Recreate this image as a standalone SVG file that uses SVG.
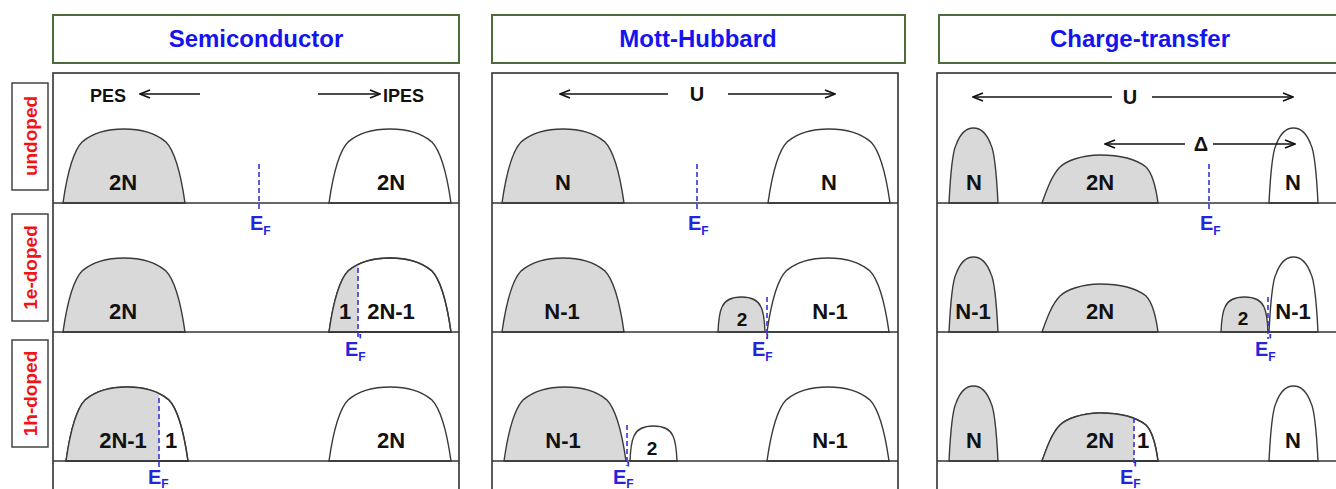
<svg xmlns="http://www.w3.org/2000/svg" xmlns:xlink="http://www.w3.org/1999/xlink" width="1336" height="489" viewBox="0 0 1336 489">
<style>
text{font-family:"Liberation Sans",Arial,sans-serif;font-weight:bold}
.title{font-size:24px;fill:#1414ee;text-anchor:middle}
.tbox{fill:#fff;stroke:#4e6b3a;stroke-width:2}
.rbox{fill:#fff;stroke:#444;stroke-width:1.5}
.rlab{font-size:19px;fill:#f01414;text-anchor:middle}
.panel{fill:#fff;stroke:#333;stroke-width:1.6}
.base{stroke:#333;stroke-width:1.6}
.g{fill:#d9d9d9;stroke:#3a3a3a;stroke-width:1.4}
.w{fill:#fff;stroke:#3a3a3a;stroke-width:1.4}
.gf{fill:#d9d9d9;stroke:none}
.o{fill:none;stroke:#3a3a3a;stroke-width:1.4}
.lab{font-size:22px;fill:#111;text-anchor:middle}
.lab2{font-size:19px;fill:#111;text-anchor:middle}
.hdr{font-size:18px;fill:#111}
.u{font-size:20px;fill:#111;text-anchor:middle}
.ef{stroke:#3434d8;stroke-width:1.6;stroke-dasharray:5 3}
.e{font-size:20px;fill:#2424dd}
.sub{font-size:12px;fill:#2424dd}
.pr{font-size:20px;font-weight:normal;fill:#2424dd}
.arr{stroke:#111;stroke-width:1.6;fill:none;marker-end:url(#ah)}
</style>
<defs>
<marker id="ah" viewBox="0 0 12 10" refX="11" refY="5" markerWidth="12" markerHeight="10" markerUnits="userSpaceOnUse" orient="auto">
<path d="M1,1 L11,5 L1,9" fill="none" stroke="#111" stroke-width="1.6"/>
</marker>
<path id="wide" d="M0,0 C3.7,-25.9 9.8,-51.8 19.5,-61.4 C32.9,-72.5 48.8,-74 61,-74 C73.2,-74 89.1,-72.5 102.5,-61.4 C112.2,-51.8 118.3,-25.9 122,0 Z"/>
<path id="narrow" d="M0,0 C1.5,-30 3,-50 7,-58 C11,-69 17,-75 24.5,-75 C32,-75 38,-69 42,-58 C46,-50 47.5,-30 49,0 Z"/>
<path id="small" d="M0,0 C0.5,-12 1.5,-20 4,-25 C7,-32 14,-35 23.5,-35 C33,-35 40,-32 43,-25 C45.5,-20 46.5,-12 47,0 Z"/>
<path id="low" d="M0,0 C5,-14 10,-28 18,-36 C24,-42 40,-48 58,-48 C78,-48 94,-44 104,-36 C110,-30 114,-15 116,0 Z"/>
<clipPath id="cS2"><rect x="0" y="0" width="358" height="489"/></clipPath>
<clipPath id="cS3"><rect x="0" y="0" width="159" height="489"/></clipPath>
<clipPath id="cC3"><rect x="0" y="0" width="1134" height="489"/></clipPath>
</defs>
<rect width="1336" height="489" fill="#fff"/>

<g id="title-semiconductor"><rect class="tbox" x="53" y="15" width="406" height="48"/><text class="title" x="256" y="47">Semiconductor</text></g>
<g id="title-mott-hubbard"><rect class="tbox" x="492" y="15" width="413" height="48"/><text class="title" x="698" y="47">Mott-Hubbard</text></g>
<g id="title-charge-transfer"><rect class="tbox" x="939" y="15" width="420" height="48"/><text class="title" x="1140" y="47">Charge-transfer</text></g>

<g id="row-undoped"><rect class="rbox" x="12" y="83" width="36" height="107"/><text class="rlab" transform="translate(37,136) rotate(-90)">undoped</text></g>
<g id="row-1e-doped"><rect class="rbox" x="12" y="214" width="36" height="107"/><text class="rlab" transform="translate(37,267.5) rotate(-90)">1e-doped</text></g>
<g id="row-1h-doped"><rect class="rbox" x="12" y="340" width="36" height="107"/><text class="rlab" transform="translate(37,393.5) rotate(-90)">1h-doped</text></g>

<g id="panel-semiconductor">
<rect class="panel" x="53" y="73" width="406" height="440"/>
<use href="#wide" class="g" x="63" y="203"/>
<use href="#wide" class="w" x="329" y="203"/>
<use href="#wide" class="g" x="63" y="332"/>
<use href="#wide" class="w" x="329" y="332"/>
<g clip-path="url(#cS2)"><use href="#wide" class="gf" x="329" y="332"/></g>
<use href="#wide" class="o" x="329" y="332"/>
<use href="#wide" class="w" x="66" y="461"/>
<g clip-path="url(#cS3)"><use href="#wide" class="gf" x="66" y="461"/></g>
<use href="#wide" class="o" x="66" y="461"/>
<use href="#wide" class="w" x="329" y="461"/>
<line class="base" x1="53" y1="203" x2="459" y2="203"/>
<line class="base" x1="53" y1="332" x2="459" y2="332"/>
<line class="base" x1="53" y1="461" x2="459" y2="461"/>
<text class="hdr" x="90" y="102">PES</text>
<text class="hdr" x="383" y="102">IPES</text>
<text class="lab" x="123" y="190">2N</text>
<text class="lab" x="391" y="190">2N</text>
<text class="lab" x="123" y="319">2N</text>
<text class="lab" x="345" y="319">1</text>
<text class="lab" x="391" y="319">2N-1</text>
<text class="lab" x="123" y="448">2N-1</text>
<text class="lab" x="171" y="448">1</text>
<text class="lab" x="391" y="448">2N</text>
<line class="ef" x1="259" y1="164" x2="259" y2="209"/>
<text class="e" x="250" y="230">E<tspan class="sub" dy="5">F</tspan></text>
<line class="ef" x1="358" y1="268" x2="358" y2="339"/>
<text class="e" x="345" y="356">E<tspan class="pr" dy="-8">'</tspan><tspan class="sub" dx="-4" dy="13">F</tspan></text>
<line class="ef" x1="159" y1="398" x2="159" y2="468"/>
<text class="e" x="148" y="484">E<tspan class="sub" dy="4">F</tspan></text>
</g>

<g id="panel-mott-hubbard">
<rect class="panel" x="492" y="73" width="406" height="440"/>
<use href="#wide" class="g" x="502" y="203"/>
<use href="#wide" class="w" x="768" y="203"/>
<use href="#wide" class="g" x="502" y="332"/>
<use href="#small" class="g" x="718" y="332"/>
<use href="#wide" class="w" x="767" y="332"/>
<use href="#wide" class="g" x="504" y="461"/>
<use href="#small" class="w" x="630" y="461"/>
<use href="#wide" class="w" x="767" y="461"/>
<line class="base" x1="492" y1="203" x2="898" y2="203"/>
<line class="base" x1="492" y1="332" x2="898" y2="332"/>
<line class="base" x1="492" y1="461" x2="898" y2="461"/>
<text class="u" x="697" y="101">U</text>
<text class="lab" x="563" y="190">N</text>
<text class="lab" x="829" y="190">N</text>
<text class="lab" x="562" y="319">N-1</text>
<text class="lab2" x="742" y="326">2</text>
<text class="lab" x="830" y="319">N-1</text>
<text class="lab" x="563" y="448">N-1</text>
<text class="lab2" x="652" y="455">2</text>
<text class="lab" x="830" y="448">N-1</text>
<line class="ef" x1="697" y1="164" x2="697" y2="209"/>
<text class="e" x="688" y="230">E<tspan class="sub" dy="5">F</tspan></text>
<line class="ef" x1="767" y1="297" x2="767" y2="339"/>
<text class="e" x="752" y="356">E<tspan class="pr" dy="-8">'</tspan><tspan class="sub" dx="-4" dy="13">F</tspan></text>
<line class="ef" x1="627" y1="425" x2="627" y2="466"/>
<text class="e" x="613" y="484">E<tspan class="pr" dy="-8">'</tspan><tspan class="sub" dx="-4" dy="12">F</tspan></text>
</g>

<g id="panel-charge-transfer">
<rect class="panel" x="937" y="73" width="420" height="440"/>
<use href="#narrow" class="g" x="949" y="203"/>
<use href="#low" class="g" x="1042" y="203"/>
<use href="#narrow" class="w" x="1269" y="203"/>
<use href="#narrow" class="g" x="949" y="332"/>
<use href="#low" class="g" x="1042" y="332"/>
<use href="#small" class="g" x="1221" y="332"/>
<use href="#narrow" class="w" x="1269" y="332"/>
<use href="#narrow" class="g" x="949" y="461"/>
<use href="#low" class="w" x="1042" y="461"/>
<g clip-path="url(#cC3)"><use href="#low" class="gf" x="1042" y="461"/></g>
<use href="#low" class="o" x="1042" y="461"/>
<use href="#narrow" class="w" x="1269" y="461"/>
<line class="base" x1="937" y1="203" x2="1336" y2="203"/>
<line class="base" x1="937" y1="332" x2="1336" y2="332"/>
<line class="base" x1="937" y1="461" x2="1336" y2="461"/>
<text class="u" x="1130" y="104">U</text>
<text class="u" x="1201" y="151">Δ</text>
<text class="lab" x="974" y="190">N</text>
<text class="lab" x="1100" y="190">2N</text>
<text class="lab" x="1293" y="190">N</text>
<text class="lab" x="973" y="319">N-1</text>
<text class="lab" x="1100" y="319">2N</text>
<text class="lab2" x="1243" y="325">2</text>
<text class="lab" x="1293" y="319">N-1</text>
<text class="lab" x="974" y="448">N</text>
<text class="lab" x="1100" y="448">2N</text>
<text class="lab" x="1143" y="448">1</text>
<text class="lab" x="1293" y="448">N</text>
<line class="ef" x1="1209" y1="164" x2="1209" y2="209"/>
<text class="e" x="1200" y="230">E<tspan class="sub" dy="5">F</tspan></text>
<line class="ef" x1="1268" y1="297" x2="1268" y2="339"/>
<text class="e" x="1255" y="356">E<tspan class="pr" dy="-8">'</tspan><tspan class="sub" dx="-4" dy="13">F</tspan></text>
<line class="ef" x1="1134" y1="418" x2="1134" y2="466"/>
<text class="e" x="1120" y="484">E<tspan class="pr" dy="-8">'</tspan><tspan class="sub" dx="-4" dy="12">F</tspan></text>
</g>

<g id="connectors">
<line class="arr" x1="200" y1="94" x2="140" y2="94"/>
<line class="arr" x1="318" y1="94" x2="380" y2="94"/>
<line class="arr" x1="668" y1="94" x2="560" y2="94"/>
<line class="arr" x1="728" y1="94" x2="835" y2="94"/>
<line class="arr" x1="1112" y1="97" x2="973" y2="97"/>
<line class="arr" x1="1152" y1="97" x2="1293" y2="97"/>
<line class="arr" x1="1185" y1="144" x2="1105" y2="144"/>
<line class="arr" x1="1213" y1="144" x2="1295" y2="144"/>
</g>
</svg>
